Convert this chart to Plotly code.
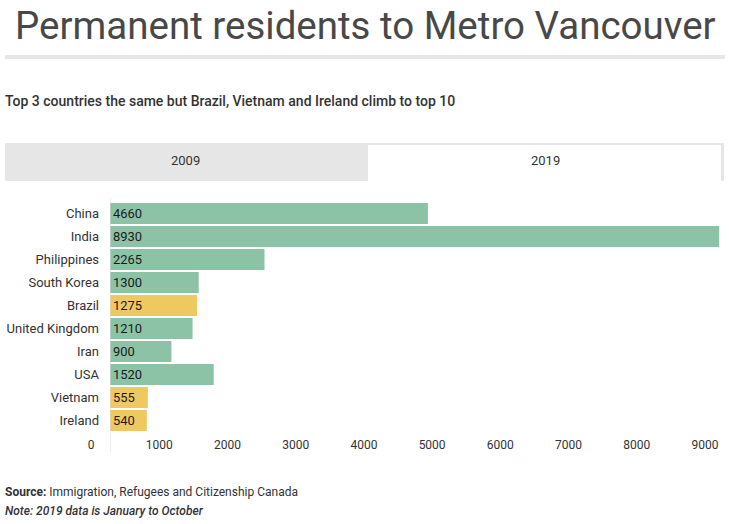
import plotly.graph_objects as go

countries = ["China", "India", "Philippines", "South Korea", "Brazil",
             "United Kingdom", "Iran", "USA", "Vietnam", "Ireland"]
values_2019 = [4660, 8930, 2265, 1300, 1275, 1210, 900, 1520, 555, 540]
new_top10 = ["Brazil", "Vietnam", "Ireland"]
tick_values = [0, 1000, 2000, 3000, 4000, 5000, 6000, 7000, 8000, 9000]

GREEN = "#8cc3a6"
YELLOW = "#f0c862"
colors = [YELLOW if c in new_top10 else GREEN for c in countries]

W, H = 729, 524
L, R, T, B = 110, 5, 202, 92
PW, PH = W - L - R, H - T - B


def px(x):
    return (x - L) / PW


def py(y):
    return (H - B - y) / PH


FONT = "Roboto, 'Open Sans', sans-serif"

fig = go.Figure(go.Bar(
    x=values_2019, y=countries, orientation="h",
    marker=dict(color=colors, line=dict(width=0)),
    text=[str(v) for v in values_2019],
    textposition="inside", insidetextanchor="start",
    textfont=dict(family=FONT, size=13, color="#1a1a1a"),
    cliponaxis=True, hoverinfo="x+y",
))

fig.update_layout(
    width=W, height=H,
    margin=dict(l=L, r=R, t=T, b=B, pad=0),
    paper_bgcolor="white", plot_bgcolor="white",
    bargap=0.09, showlegend=False,
    font=dict(family=FONT, color="#333"),
    xaxis=dict(range=[0, 9000], tickvals=tick_values, showgrid=False,
               zeroline=False, showline=False, ticks="",
               tickfont=dict(family=FONT, size=12, color="#333"),
               ticklabelshift=-19, ticklabelstandoff=4, fixedrange=True),
    yaxis=dict(autorange="reversed", showgrid=False, zeroline=False,
               showline=False, ticks="", ticklabelstandoff=10,
               tickfont=dict(family=FONT, size=13, color="#333"),
               fixedrange=True),
)

shapes = [
    # separator under title
    dict(type="rect", xref="paper", yref="paper", x0=px(5), x1=px(725),
         y0=py(59), y1=py(55), fillcolor="#e6e6e6", line=dict(width=0), layer="below"),
    # tab container
    dict(type="rect", xref="paper", yref="paper", x0=px(5), x1=px(724),
         y0=py(181), y1=py(143), fillcolor="#e6e6e6", line=dict(width=0), layer="below"),
    # active tab
    dict(type="rect", xref="paper", yref="paper", x0=px(368), x1=px(721),
         y0=py(182), y1=py(145), fillcolor="white", line=dict(width=0), layer="below"),
    # zero axis line
    dict(type="line", xref="x", yref="paper", x0=0, x1=0, y0=py(452), y1=py(198),
         line=dict(color="#dddddd", width=1)),
]

annotations = [
    dict(text="Permanent residents to Metro Vancouver", x=px(365), y=py(25),
         font=dict(family=FONT, size=38.5, color="#484848")),
    dict(text="Top 3 countries the same but Brazil, Vietnam and Ireland climb to top 10",
         x=px(3), y=py(101), xanchor="left",
         font=dict(family=FONT, size=14, color="#333", weight=500)),
    dict(text="2009", x=px(185), y=py(161), font=dict(family=FONT, size=13, color="#333")),
    dict(text="2019", x=px(545), y=py(161), font=dict(family=FONT, size=13, color="#333")),
    dict(text="<b>Source:</b> Immigration, Refugees and Citizenship Canada",
         x=px(3), y=py(492), xanchor="left", font=dict(family=FONT, size=12, color="#333")),
    dict(text="<i>Note: 2019 data is January to October</i>",
         x=px(3), y=py(511), xanchor="left",
         font=dict(family=FONT, size=12, color="#333", weight=500)),
]
for a in annotations:
    a.setdefault("xanchor", "center")
    a.update(xref="paper", yref="paper", yanchor="middle", showarrow=False)

fig.update_layout(shapes=shapes, annotations=annotations)
fig.write_html("out.html", config={"displayModeBar": False})
